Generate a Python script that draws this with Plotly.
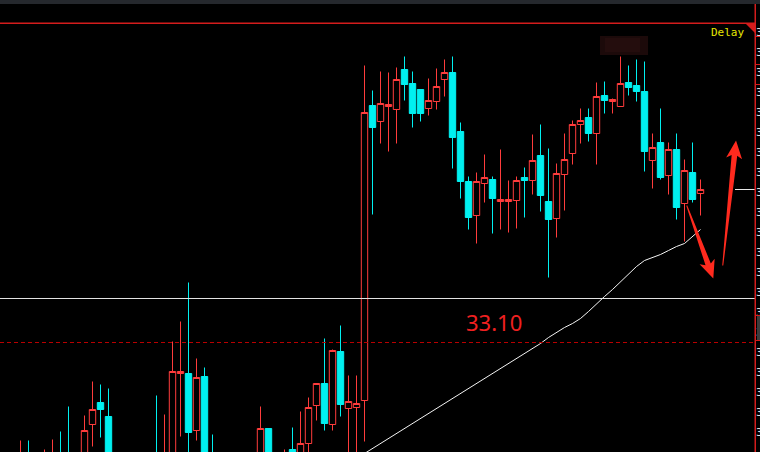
import math
import plotly.graph_objects as go

# ---- daily OHLC (red = up, cyan = down) ----
opens = [31.72, 31.80, 31.78, 31.96, 31.86, 31.80, 31.88, 31.98, 31.96, 31.86,
         31.92, 32.28, 32.50, 32.36, 31.90, 31.76, 31.82, 31.72, 31.80, 31.98,
         31.86, 31.94, 32.79, 32.79, 32.22, 32.76, 31.98, 31.86, 31.74, 31.82,
         31.70, 31.78, 31.90, 32.24, 31.88, 31.80, 32.03, 31.94, 32.09, 32.47,
         32.69, 32.28, 33.01, 32.44, 32.45, 32.52, 35.47, 35.31, 35.46, 35.43,
         35.83, 35.69, 35.63, 35.44, 35.51, 35.73, 35.80, 35.21, 34.71, 34.37,
         34.69, 34.73, 34.51, 34.51, 34.52, 34.75, 34.72, 34.97, 34.51, 34.34,
         34.78, 34.99, 35.28, 35.35, 35.19, 35.57, 35.51, 35.46, 35.70, 35.67,
         35.61, 34.92, 35.10, 34.77, 35.03, 34.49, 34.80, 34.59]
highs = [31.86, 31.92, 32.12, 32.12, 31.96, 32.03, 32.13, 32.21, 32.46, 31.98,
         32.37, 32.71, 32.68, 32.64, 31.97, 31.90, 31.95, 31.88, 31.96, 32.57,
         32.38, 33.11, 33.31, 33.70, 32.94, 32.85, 32.18, 31.95, 31.90, 31.94,
         31.86, 31.97, 32.46, 32.24, 31.96, 32.03, 32.25, 32.41, 32.55, 32.69,
         33.14, 33.03, 33.27, 32.77, 32.77, 35.87, 35.62, 35.81, 35.80, 35.85,
         35.96, 35.81, 35.63, 35.74, 35.84, 35.93, 35.96, 35.30, 34.76, 34.80,
         34.98, 34.76, 35.03, 34.72, 34.76, 34.85, 35.18, 35.28, 35.04, 34.89,
         35.19, 35.32, 35.44, 35.44, 35.70, 35.71, 35.54, 35.96, 35.87, 35.93,
         35.91, 35.19, 35.44, 35.10, 35.19, 34.93, 35.10, 34.73]
lows = [31.62, 31.70, 31.70, 31.78, 31.74, 31.72, 31.80, 31.82, 31.80, 31.70,
        31.85, 32.06, 32.15, 31.84, 31.70, 31.62, 31.66, 31.60, 31.70, 31.80,
        31.78, 31.88, 32.16, 31.95, 32.12, 31.85, 31.80, 31.68, 31.62, 31.66,
        31.58, 31.70, 31.84, 31.82, 31.72, 31.74, 31.86, 31.88, 31.98, 32.32,
        32.22, 32.22, 32.36, 31.96, 31.97, 32.11, 34.38, 35.09, 35.01, 35.09,
        35.52, 35.25, 35.31, 35.37, 35.43, 35.56, 34.84, 34.54, 34.23, 34.09,
        34.50, 34.19, 34.23, 34.20, 34.24, 34.35, 34.58, 34.41, 33.75, 34.15,
        34.42, 34.88, 35.09, 35.11, 34.88, 35.39, 35.39, 35.46, 35.57, 35.51,
        34.81, 34.64, 34.73, 34.58, 34.33, 34.11, 34.50, 34.37]
closes = [31.80, 31.76, 31.95, 31.85, 31.80, 31.92, 31.97, 31.90, 31.88, 31.90,
          32.22, 32.43, 32.43, 31.90, 31.78, 31.84, 31.72, 31.80, 31.86, 31.86,
          31.96, 32.81, 32.81, 32.20, 32.75, 31.92, 31.86, 31.74, 31.82, 31.70,
          31.78, 31.90, 32.24, 31.88, 31.80, 31.94, 31.92, 32.09, 32.45, 32.69,
          32.29, 33.02, 32.48, 32.51, 32.49, 35.40, 35.25, 35.49, 35.48, 35.73,
          35.68, 35.39, 35.39, 35.52, 35.66, 35.80, 35.15, 34.71, 34.35, 34.71,
          34.75, 34.54, 34.53, 34.53, 34.72, 34.72, 34.92, 34.57, 34.33, 34.79,
          34.93, 35.28, 35.32, 35.19, 35.56, 35.52, 35.53, 35.69, 35.65, 35.61,
          35.01, 35.05, 34.75, 35.03, 34.45, 34.82, 34.53, 34.63]
days = list(range(len(opens)))

# ---- long moving average (starts at day 44) ----
ma_start = 44
ma_values = [31.94, 31.99, 32.04, 32.09, 32.14, 32.19, 32.24, 32.29, 32.34, 32.39,
             32.44, 32.49, 32.54, 32.59, 32.64, 32.69, 32.74, 32.79, 32.84, 32.89,
             32.94, 32.99, 33.04, 33.09, 33.15, 33.20, 33.25, 33.29, 33.34, 33.41,
             33.49, 33.56, 33.63, 33.71, 33.78, 33.86, 33.92, 33.95, 33.98, 34.02,
             34.06, 34.09, 34.16, 34.23]
ma_days = list(range(ma_start, ma_start + len(ma_values)))

# ---- reference levels ----
support_level = 33.54
marked_price = 33.10
marked_label = "33.10"

# hand-drawn arrows: (tail, tip) in (day, price)
arrows = [((85.28, 34.47), (88.60, 33.74)),
          ((89.78, 33.87), (91.44, 35.12))]

# right-hand price scale
scale_ticks = [36.2, 36.0, 35.8, 35.6, 35.4, 35.2, 35.0, 34.8, 34.6, 34.4,
               34.2, 34.0, 33.8, 33.6, 33.4, 33.2, 33.0, 32.8, 32.6, 32.4, 32.2]

# ---- geometry ----
W, H = 760, 452
M = dict(l=0, r=5, t=23, b=0)
PLOT_W = W - M["l"] - M["r"]
PLOT_H = H - M["t"] - M["b"]
X_RANGE = [-0.5625, 93.8125]
Y_RANGE = [32.005, 36.295]

RED = "#ff3c3c"
CYAN = "#00f0f0"
FRAME_RED = "#d41c1c"


def to_px(x, y):
    px = (x - X_RANGE[0]) / (X_RANGE[1] - X_RANGE[0]) * PLOT_W
    py = (Y_RANGE[1] - y) / (Y_RANGE[1] - Y_RANGE[0]) * PLOT_H
    return px, py


def to_data(px, py):
    x = X_RANGE[0] + px / PLOT_W * (X_RANGE[1] - X_RANGE[0])
    y = Y_RANGE[1] - py / PLOT_H * (Y_RANGE[1] - Y_RANGE[0])
    return x, y


def arrow_path(tail, tip, head_len=15, head_half=8, tail_half=0.5, neck_half=2.8):
    tx, ty = to_px(*tail)
    hx, hy = to_px(*tip)
    dx, dy = hx - tx, hy - ty
    length = math.hypot(dx, dy)
    ux, uy = dx / length, dy / length
    nx, ny = -uy, ux
    bx, by = hx - ux * head_len, hy - uy * head_len
    wx, wy = bx - ux * 3, by - uy * 3
    pts = [
        (tx + nx * tail_half, ty + ny * tail_half),
        (bx + nx * neck_half, by + ny * neck_half),
        (wx + nx * head_half, wy + ny * head_half),
        (hx, hy),
        (wx - nx * head_half, wy - ny * head_half),
        (bx - nx * neck_half, by - ny * neck_half),
        (tx - nx * tail_half, ty - ny * tail_half),
    ]
    coords = [to_data(px, py) for px, py in pts]
    return "M " + " L ".join(f"{x:.4f},{y:.4f}" for x, y in coords) + " Z"


def paper_y(py):
    return (H - M["b"] - py) / PLOT_H


def paper_x(px):
    return px / PLOT_W


def frame_rect(x0, x1, y0, y1, color):
    # pixel-box helper for the window chrome
    return dict(type="rect", xref="paper", yref="paper",
                x0=paper_x(x0), x1=paper_x(x1), y0=paper_y(y1), y1=paper_y(y0),
                fillcolor=color, line=dict(width=0), layer="above")


fig = go.Figure()

fig.add_trace(go.Candlestick(
    x=days, open=opens, high=highs, low=lows, close=closes,
    increasing=dict(line=dict(color=RED, width=1), fillcolor="#000000"),
    decreasing=dict(line=dict(color=CYAN, width=1), fillcolor=CYAN),
    whiskerwidth=0,
    hoverinfo="skip",
))

fig.add_trace(go.Scatter(
    x=ma_days, y=ma_values, mode="lines",
    line=dict(color="#f4f4f4", width=1),
    hoverinfo="skip",
))

shapes = []
# support line and dashed marked level
shapes.append(dict(type="line", xref="paper", yref="y", x0=0, x1=1,
                   y0=support_level, y1=support_level,
                   line=dict(color="#e2e2e2", width=1), layer="above"))
shapes.append(dict(type="line", xref="paper", yref="y", x0=0, x1=1,
                   y0=marked_price, y1=marked_price,
                   line=dict(color="#b80000", width=1, dash="4px,3px"), layer="above"))
# last price tick
shapes.append(dict(type="line", xref="paper", yref="y", x0=paper_x(735), x1=1,
                   y0=closes[-1], y1=closes[-1],
                   line=dict(color="#e8e8e8", width=1), layer="above"))
# arrows
for tail, tip in arrows:
    shapes.append(dict(type="path", xref="x", yref="y", path=arrow_path(tail, tip),
                       fillcolor="#ff2a1e", line=dict(width=0), layer="above"))
# window frame
shapes.append(frame_rect(0, W, 0, 4, "#25282d"))
shapes.append(frame_rect(0, 756, 22.5, 24, FRAME_RED))
shapes.append(frame_rect(754.5, 756, 4, H, FRAME_RED))
shapes.append(dict(type="path", xref="paper", yref="paper",
                   path=f"M {paper_x(745)},{paper_y(23)} L {paper_x(756)},{paper_y(23)} "
                        f"L {paper_x(756)},{paper_y(34)} Z",
                   fillcolor=FRAME_RED, line=dict(width=0), layer="above"))
for py in (36, 64, 84, 315, 340):
    shapes.append(frame_rect(755, W, py, py + 1, FRAME_RED))
shapes.append(frame_rect(757, W, 316, 340, "#3c3c3c"))
# smudged watermark patch
shapes.append(frame_rect(600, 648, 36, 55, "#1c0a0a"))
shapes.append(frame_rect(605, 640, 38, 52, "#240d0d"))

annotations = [
    dict(text=marked_label, x=61.2, y=33.31, xref="x", yref="y",
         showarrow=False, xanchor="center", yanchor="middle",
         font=dict(family="Noto Sans, Liberation Sans, sans-serif", size=22, color="#f02020")),
    dict(text="Delay", x=paper_x(746), y=paper_y(33), xref="paper", yref="paper",
         showarrow=False, xanchor="right", yanchor="middle",
         font=dict(family="DejaVu Sans Mono, monospace", size=11, color="#e6e600")),
]

fig.update_layout(
    width=W, height=H, margin=M,
    paper_bgcolor="#000000", plot_bgcolor="#000000",
    showlegend=False,
    boxgap=0.2, boxgroupgap=0,
    shapes=shapes, annotations=annotations,
    xaxis=dict(range=X_RANGE, visible=False, rangeslider=dict(visible=False),
               fixedrange=True),
    yaxis=dict(range=Y_RANGE, side="right", showgrid=False, zeroline=False,
               showline=False, ticks="", automargin=False,
               tickvals=scale_ticks, ticktext=[f"{v:.2f}" for v in scale_ticks],
               tickfont=dict(family="DejaVu Sans Mono, monospace", size=11, color="#e0e0e0"),
               fixedrange=True),
)

fig.write_html("out.html")
